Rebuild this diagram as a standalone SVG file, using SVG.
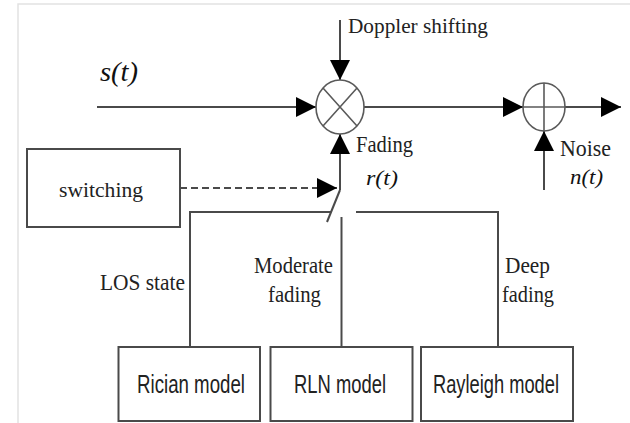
<svg xmlns="http://www.w3.org/2000/svg" width="630" height="423" viewBox="0 0 630 423">
<style>
.ln{fill:none;stroke:#4a4a4a;stroke-width:2}
.dash{fill:none;stroke:#4a4a4a;stroke-width:2;stroke-dasharray:7 4}
.op{fill:#fff;stroke:#5a5a5a;stroke-width:1.6}
.opl{fill:none;stroke:#5a5a5a;stroke-width:1.6}
.box{fill:#fff;stroke:#4a4a4a;stroke-width:2}
.t{font-family:"Liberation Serif","Times New Roman",serif;fill:#222}
.ti{font-family:"Liberation Serif","Times New Roman",serif;font-style:italic;fill:#111}
.s{font-family:"Liberation Sans",Arial,sans-serif;fill:#222}
</style>
<defs>
<marker id="ah" markerUnits="userSpaceOnUse" markerWidth="20" markerHeight="20" refX="20" refY="10" orient="auto">
<path d="M0,0 L20,10 L0,20 z" fill="#000"/>
</marker>
</defs>
<rect width="630" height="423" fill="#fff"/>
<path d="M18,423 V4 H630" fill="none" stroke="#e2e2e2" stroke-width="1.5"/>

<g id="connectors">
<path class="ln" d="M97,107 H316" marker-end="url(#ah)"/>
<path class="ln" d="M340,20 V80" marker-end="url(#ah)"/>
<path class="ln" d="M364,107 H523" marker-end="url(#ah)"/>
<path class="ln" d="M565,107 H621" marker-end="url(#ah)"/>
<path class="ln" d="M544,190 V131" marker-end="url(#ah)"/>
<path class="ln" d="M340,190 V134" marker-end="url(#ah)"/>
<path class="ln" d="M340,190 L327,222"/>
<path class="dash" d="M180,188 H337" marker-end="url(#ah)"/>
<path class="ln" d="M331,212 H190 V347"/>
<path class="ln" d="M356,212 H498 V347"/>
<path class="ln" d="M341.5,217 V347"/>
</g>

<g id="mixer">
<ellipse class="op" cx="340" cy="107" rx="24" ry="27"/>
<path class="opl" d="M323,88 L357,126 M357,88 L323,126"/>
</g>
<g id="adder">
<ellipse class="op" cx="544" cy="107" rx="21" ry="24"/>
<path class="opl" d="M523,107 H565 M544,83 V131"/>
</g>

<g id="labels">
<text class="ti" x="100" y="81" font-size="28" textLength="38" lengthAdjust="spacingAndGlyphs">s(t)</text>
<text class="t" x="348" y="33" font-size="20" textLength="140" lengthAdjust="spacingAndGlyphs">Doppler shifting</text>
<text class="t" x="356" y="152" font-size="23" textLength="57" lengthAdjust="spacingAndGlyphs">Fading</text>
<text class="ti" x="366" y="185" font-size="20" textLength="32" lengthAdjust="spacingAndGlyphs">r(t)</text>
<text class="t" x="560" y="156" font-size="24" textLength="51" lengthAdjust="spacingAndGlyphs">Noise</text>
<text class="ti" x="570" y="184" font-size="20" textLength="33" lengthAdjust="spacingAndGlyphs">n(t)</text>
<text class="t" x="100" y="290" font-size="23" textLength="85" lengthAdjust="spacingAndGlyphs">LOS state</text>
<text class="t" x="254" y="273" font-size="23" textLength="79" lengthAdjust="spacingAndGlyphs">Moderate</text>
<text class="t" x="268" y="302" font-size="23" textLength="53" lengthAdjust="spacingAndGlyphs">fading</text>
<text class="t" x="505" y="273" font-size="23" textLength="45" lengthAdjust="spacingAndGlyphs">Deep</text>
<text class="t" x="502" y="302" font-size="23" textLength="52" lengthAdjust="spacingAndGlyphs">fading</text>
</g>

<g id="switching">
<rect class="box" x="27" y="149" width="153" height="78"/>
<text class="t" x="59" y="197" font-size="22" textLength="84" lengthAdjust="spacingAndGlyphs">switching</text>
</g>
<g id="rician">
<rect class="box" x="118.5" y="347" width="141.5" height="74"/>
<text class="s" x="137" y="393" font-size="26" textLength="108" lengthAdjust="spacingAndGlyphs">Rician model</text>
</g>
<g id="rln">
<rect class="box" x="270.5" y="347" width="142" height="74"/>
<text class="s" x="294" y="393" font-size="26" textLength="92" lengthAdjust="spacingAndGlyphs">RLN model</text>
</g>
<g id="rayleigh">
<rect class="box" x="421" y="347" width="152" height="74"/>
<text class="s" x="433" y="393" font-size="26" textLength="126" lengthAdjust="spacingAndGlyphs">Rayleigh model</text>
</g>
</svg>
